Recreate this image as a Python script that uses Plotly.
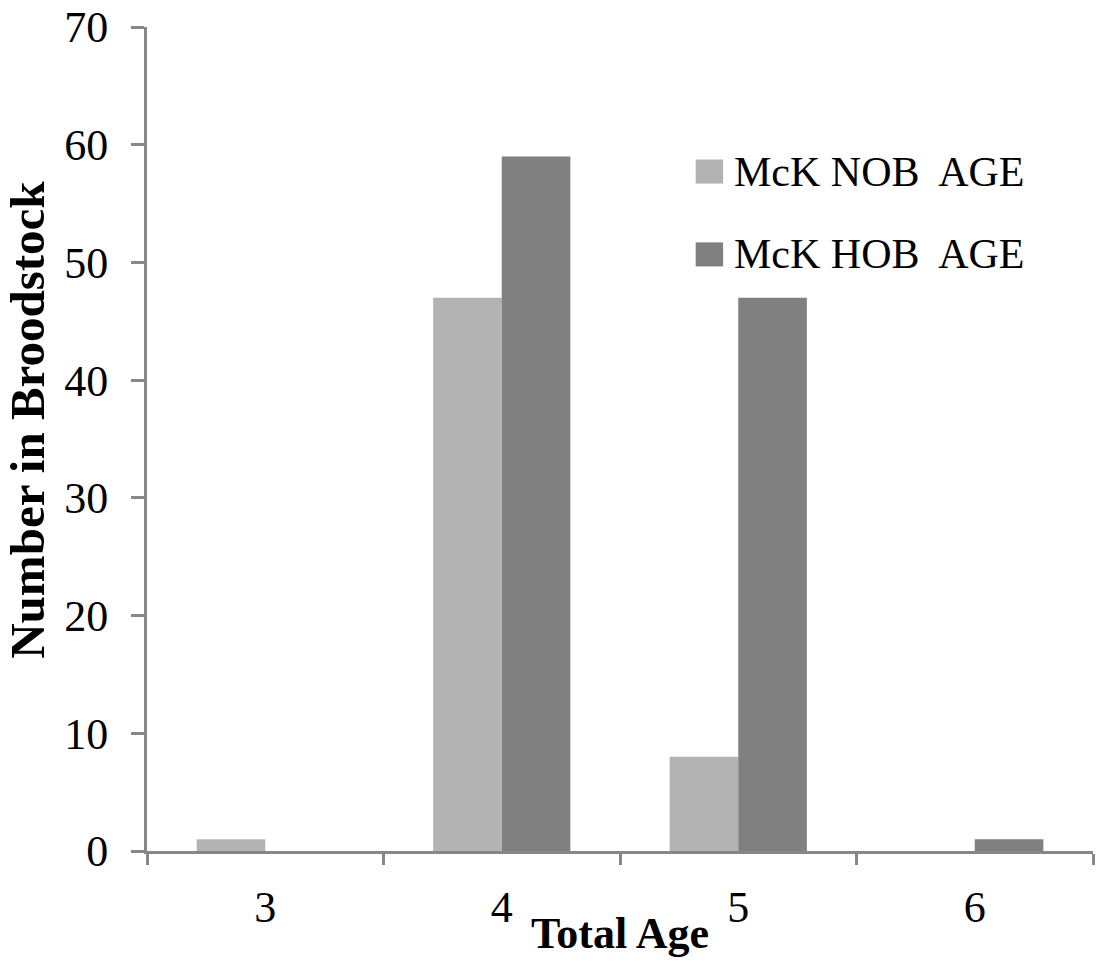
import plotly.graph_objects as go

categories = ["3", "4", "5", "6"]
nob_values = [1, 47, 8, 0]
hob_values = [0, 59, 47, 1]
series_names = ["McK NOB  AGE", "McK HOB  AGE"]
series_colors = ["#b3b3b3", "#808080"]
y_ticks = [0, 10, 20, 30, 40, 50, 60, 70]

FONT = "Liberation Serif, Times New Roman, serif"
AXIS_COLOR = "#878787"

fig = go.Figure()
fig.add_trace(go.Bar(x=categories, y=nob_values, name=series_names[0],
                     marker=dict(color=series_colors[0], line=dict(width=0))))
fig.add_trace(go.Bar(x=categories, y=hob_values, name=series_names[1],
                     marker=dict(color=series_colors[1], line=dict(width=0))))

fig.update_layout(
    width=1097, height=961,
    margin=dict(l=147, r=4, t=27, b=110),
    paper_bgcolor="white", plot_bgcolor="white",
    barmode="group", bargap=0.42, bargroupgap=0,
    showlegend=False,
    font=dict(family=FONT, color="black"),
)

fig.update_xaxes(
    type="category", range=[-0.5, 3.5],
    showline=True, linecolor=AXIS_COLOR, linewidth=3,
    ticks="outside", tickson="boundaries", ticklen=11, tickwidth=3, tickcolor=AXIS_COLOR,
    tickfont=dict(family=FONT, size=44, color="black"),
    ticklabelstandoff=15,
    showgrid=False, zeroline=False,
)
fig.update_yaxes(
    range=[0, 70], tickvals=y_ticks,
    showline=True, linecolor=AXIS_COLOR, linewidth=3,
    ticks="outside", ticklen=13, tickwidth=3, tickcolor=AXIS_COLOR,
    tickfont=dict(family=FONT, size=44, color="black"),
    ticklabelstandoff=14,
    showgrid=False, zeroline=False,
)

# axis titles
fig.add_annotation(text="<b>Total Age</b>", xref="paper", yref="paper",
                   x=0.5, y=-0.068, xanchor="center", yanchor="top", showarrow=False,
                   font=dict(family=FONT, size=44, color="black"))
fig.add_annotation(text="<b>Number in Broodstock</b>", xref="paper", yref="paper",
                   x=-0.125, xshift=-2, y=0.523, xanchor="center", yanchor="middle", showarrow=False,
                   textangle=-90, font=dict(family=FONT, size=49, color="black"))

# legend (manual, to match large square swatches)
legend_y = [0.8246, 0.724]
for name, color, ly in zip(series_names, series_colors, legend_y):
    fig.add_shape(type="rect", xref="paper", yref="paper",
                  x0=0.580, x1=0.609, y0=ly - 0.0146, y1=ly + 0.0146,
                  fillcolor=color, line=dict(width=0))
    fig.add_annotation(text=name, xref="paper", yref="paper",
                       x=0.618, y=ly, xanchor="left", yanchor="middle", showarrow=False,
                       font=dict(family=FONT, size=42, color="black"))

fig.write_html("out.html", config={"displayModeBar": False},
               post_script="document.body.style.margin='0';")
